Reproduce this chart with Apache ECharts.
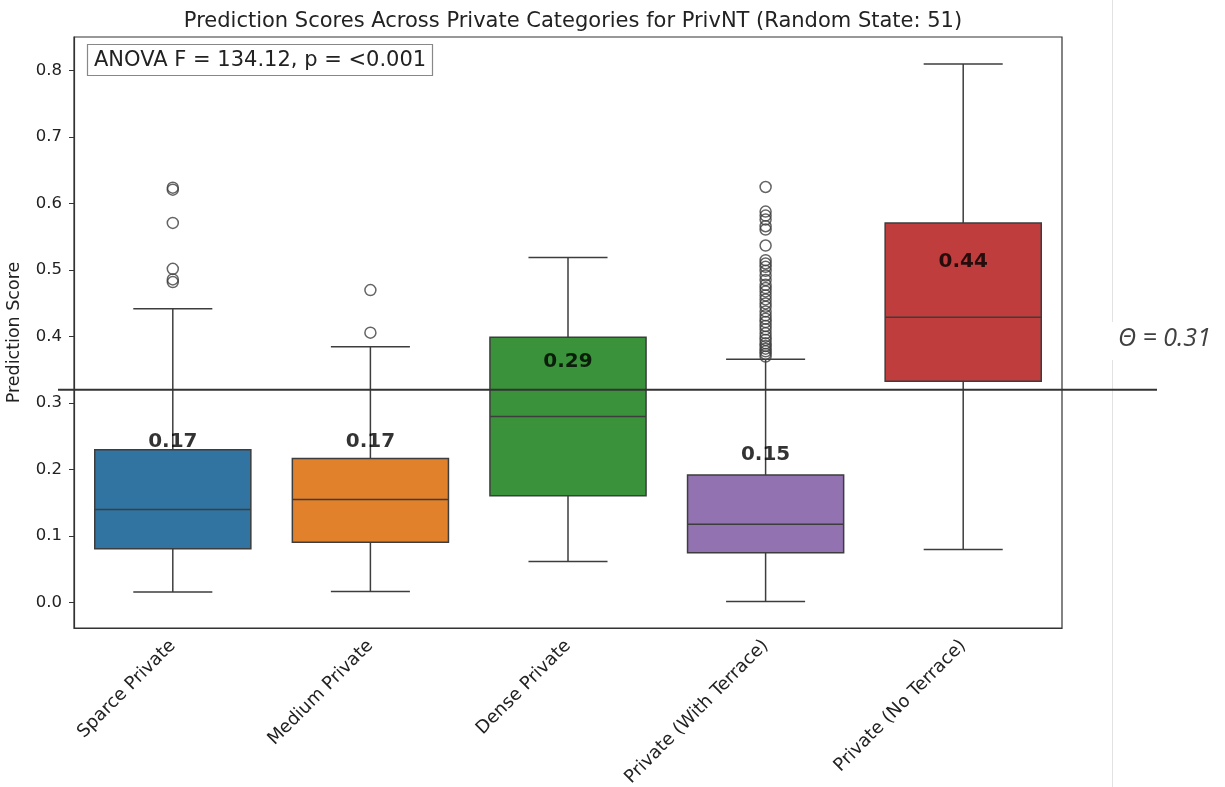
<!DOCTYPE html>
<html>
<head>
<meta charset="utf-8">
<title>Prediction Scores</title>
<script src="https://cdn.jsdelivr.net/npm/echarts@6/dist/echarts.min.js"></script>
<style>
  html, body { margin: 0; padding: 0; background: #fff; }
  #main { width: 1225px; height: 787px; }
</style>
</head>
<body>
<div id="main"></div>
<script>
// categories and box statistics
var categories = ['Sparce Private', 'Medium Private', 'Dense Private', 'Private (With Terrace)', 'Private (No Terrace)'];
var whiskerLow = [0.016, 0.017, 0.062, 0.002, 0.080];
var q1 = [0.081, 0.091, 0.161, 0.075, 0.333];
var medians = [0.140, 0.155, 0.280, 0.118, 0.429];
var q3 = [0.230, 0.217, 0.399, 0.192, 0.571];
var whiskerHigh = [0.442, 0.385, 0.519, 0.366, 0.810];
var means = [0.17, 0.17, 0.29, 0.15, 0.44];

var outSparce = [0.624, 0.621, 0.571, 0.502, 0.486, 0.482];
var outMedium = [0.470, 0.406];
var outDense = [];
var outTerrace = [0.625, 0.588, 0.582, 0.576, 0.566, 0.561, 0.537, 0.515, 0.510, 0.505, 0.499,
    0.492, 0.485, 0.478, 0.473, 0.468, 0.462, 0.456, 0.450, 0.445, 0.438, 0.432, 0.427, 0.422,
    0.416, 0.411, 0.405, 0.400, 0.395, 0.390, 0.386, 0.382, 0.378, 0.374, 0.370];
var outNoTerrace = [];
var outliers = [outSparce, outMedium, outDense, outTerrace, outNoTerrace];

var yTicks = [0, 0.1, 0.2, 0.3, 0.4, 0.5, 0.6, 0.7, 0.8];
var thresholdValue = 0.32;
var thresholdText = 'Θ = 0.31';

var colors = ['#3274a1', '#e1812c', '#3a923a', '#9372b2', '#c03d3e'];
var lineColor = '#3d3d3d';

var boxData = categories.map(function (c, i) {
    return [i, whiskerLow[i], q1[i], medians[i], q3[i], whiskerHigh[i]];
});
var outlierData = [];
outliers.forEach(function (arr, i) {
    arr.forEach(function (v) { outlierData.push([i, v]); });
});
var meanData = means.map(function (m, i) { return [i, m]; });

function renderBox(params, api) {
    var i = api.value(0);
    var band = api.size([1, 0])[0];
    var half = band * 0.395;
    var cap = band * 0.2;
    var x = api.coord([i, 0])[0];
    var yLow = api.coord([i, api.value(1)])[1];
    var yQ1 = api.coord([i, api.value(2)])[1];
    var yMed = api.coord([i, api.value(3)])[1];
    var yQ3 = api.coord([i, api.value(4)])[1];
    var yHigh = api.coord([i, api.value(5)])[1];
    var ls = { stroke: lineColor, lineWidth: 1.5 };
    return {
        type: 'group',
        children: [
            { type: 'line', shape: { x1: x, y1: yLow, x2: x, y2: yQ1 }, style: ls },
            { type: 'line', shape: { x1: x, y1: yQ3, x2: x, y2: yHigh }, style: ls },
            { type: 'line', shape: { x1: x - cap, y1: yLow, x2: x + cap, y2: yLow }, style: ls },
            { type: 'line', shape: { x1: x - cap, y1: yHigh, x2: x + cap, y2: yHigh }, style: ls },
            { type: 'rect', shape: { x: x - half, y: yQ3, width: half * 2, height: yQ1 - yQ3 },
              style: { fill: colors[i], stroke: lineColor, lineWidth: 1.5 } },
            { type: 'line', shape: { x1: x - half, y1: yMed, x2: x + half, y2: yMed }, style: ls }
        ]
    };
}

var font = 'DejaVu Sans';
var chart = echarts.init(document.getElementById('main'));

var option = {
    animation: false,
    textStyle: { fontFamily: font },
    title: [{
        text: 'Prediction Scores Across Private Categories for PrivNT (Random State: 51)',
        left: 568, top: 6, textAlign: 'center',
        textStyle: { fontFamily: font, fontSize: 21, fontWeight: 'normal', color: '#222' }
    }, {
        text: 'ANOVA F = 134.12, p = <0.001',
        left: 87, top: 44,
        padding: [6, 7, 5, 7],
        borderColor: '#888', borderWidth: 1.2,
        textStyle: { fontFamily: font, fontSize: 21, fontWeight: 'normal', color: '#222' }
    }],
    grid: {
        left: 74, right: 163, top: 37, bottom: 159,
        outerBoundsMode: 'none',
        containLabel: false,
        show: true, borderColor: '#333', borderWidth: 1.2, backgroundColor: 'transparent'
    },
    xAxis: {
        type: 'category',
        data: categories,
        boundaryGap: true,
        axisLine: { onZero: false, lineStyle: { color: '#333', width: 1.2 } },
        axisTick: { alignWithLabel: true, length: 5, lineStyle: { color: '#333' } },
        axisLabel: { interval: 0, rotate: 45, fontSize: 18, color: '#222', margin: 15, fontFamily: font }
    },
    yAxis: {
        type: 'value',
        min: -0.038,
        max: 0.8505,
        name: 'Prediction Score',
        nameLocation: 'middle',
        nameGap: 51,
        nameTextStyle: { fontSize: 17.5, color: '#222', fontFamily: font },
        splitLine: { show: false },
        axisLine: { show: true, lineStyle: { color: '#333', width: 1.2 } },
        axisTick: { show: true, length: 5, customValues: yTicks, lineStyle: { color: '#333' } },
        axisLabel: {
            customValues: yTicks, fontSize: 16.5, color: '#222', margin: 12, fontFamily: font,
            formatter: function (v) { return v.toFixed(1); }
        }
    },
    series: [{
        type: 'custom',
        renderItem: renderBox,
        encode: { x: 0, y: [1, 2, 3, 4, 5] },
        data: boxData,
        z: 2
    }, {
        type: 'scatter',
        data: outlierData,
        symbol: 'circle',
        symbolSize: 11,
        itemStyle: { color: 'rgba(255,255,255,0)', borderColor: '#3d3d3d', borderWidth: 1.5 },
        z: 3
    }, {
        type: 'scatter',
        data: meanData,
        symbolSize: 0,
        label: {
            show: true,
            position: 'inside',
            offset: [0, -48],
            fontSize: 20,
            fontWeight: 'bold',
            color: '#000',
            fontFamily: font,
            formatter: function (p) { return p.value[1].toFixed(2); }
        },
        z: 4
    }]
};

chart.setOption(option);

var yTh = chart.convertToPixel({ yAxisIndex: 0 }, thresholdValue);
chart.setOption({
    graphic: [{
        type: 'line', shape: { x1: 58, y1: yTh, x2: 1157, y2: yTh },
        style: { stroke: '#333', lineWidth: 2 }, z: 10
    }, {
        type: 'line', shape: { x1: 1112.5, y1: 0, x2: 1112.5, y2: 322 },
        style: { stroke: '#e2e2e2', lineWidth: 1 }, z: 1
    }, {
        type: 'line', shape: { x1: 1112.5, y1: 360, x2: 1112.5, y2: 787 },
        style: { stroke: '#e2e2e2', lineWidth: 1 }, z: 1
    }, {
        type: 'text', x: 1118, y: 339,
        style: {
            text: thresholdText, fill: '#404040', fontSize: 25, fontStyle: 'italic',
            fontFamily: 'Open Sans', textVerticalAlign: 'middle'
        }
    }]
});
</script>
</body>
</html>
